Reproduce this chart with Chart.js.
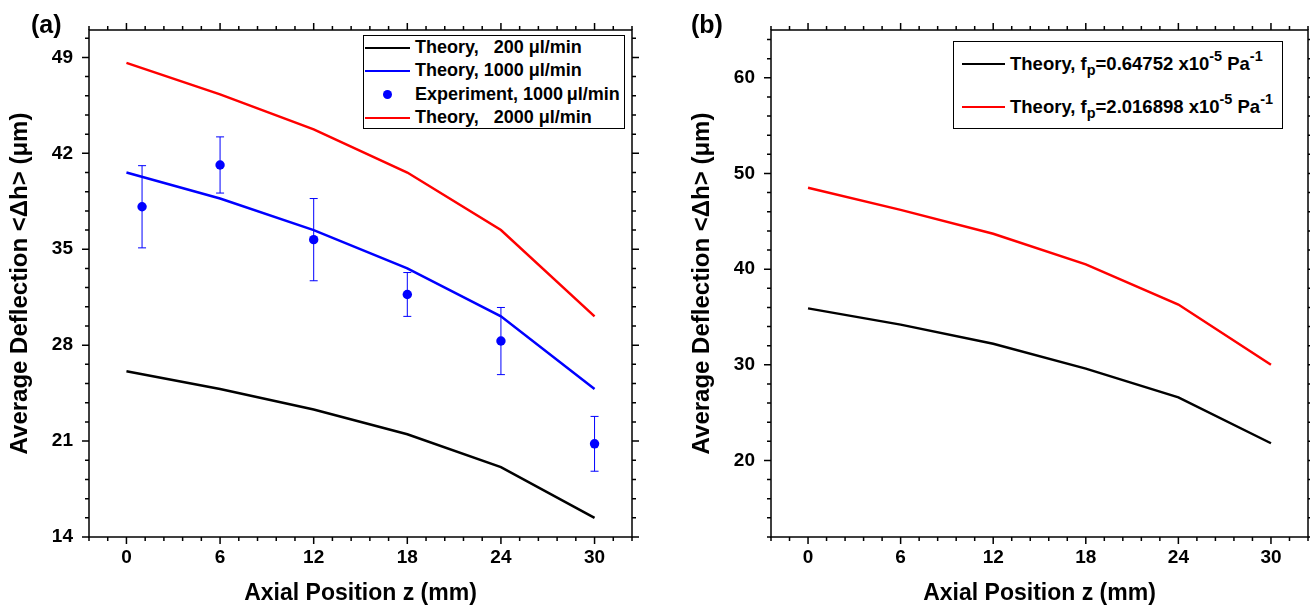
<!DOCTYPE html>
<html>
<head>
<meta charset="utf-8">
<script src="https://cdn.jsdelivr.net/npm/chart.js@4.4.0/dist/chart.umd.min.js"></script>
<style>
  html, body { margin: 0; padding: 0; background: #fff; }
  body { width: 1310px; height: 610px; position: relative; overflow: hidden; font-family: "Liberation Sans", Arial, sans-serif; color: #000; }
  canvas { position: absolute; top: 0; }
  #chartA { left: 0; }
  #chartB { left: 655px; }
  .tag { position: absolute; font-weight: bold; font-size: 25px; line-height: 25px; }
  .legend { position: absolute; border: 1.3px solid #000; background: #fff; font-weight: bold; box-sizing: border-box; }
  .row { display: flex; align-items: center; white-space: pre; }
  .sample { display: inline-block; position: relative; flex: none; }
  .sample.line { border-top: 2.5px solid; height: 0; }
  .sample.dot::after { content: ""; position: absolute; left: 50%; top: 50%; width: 9px; height: 9px; margin: -4.5px 0 0 -4.5px; border-radius: 50%; background: #0000ff; }
  sup, sub { font-size: 0.78em; position: relative; vertical-align: baseline; line-height: 0; }
  sup { top: -0.6em; }
  sub { top: 0.35em; }
</style>
</head>
<body>
<canvas id="chartA" width="655" height="610"></canvas>
<canvas id="chartB" width="655" height="610"></canvas>
<div class="tag" style="left:31px; top:12px;">(a)</div>
<div class="tag" style="left:691px; top:12px;">(b)</div>
<div class="legend" id="legendA" style="left:363px; top:35px; width:262px; height:94px; font-size:18px;"></div>
<div class="legend" id="legendB" style="left:953px; top:41px; width:330px; height:88px; font-size:18.5px;"></div>
<script>
// panel (a) data
const xTheory = [0, 6, 12, 18, 24, 30];
const xExperiment = [1, 6, 12, 18, 24, 30];
const theory200 = [26.1, 24.8, 23.3, 21.5, 19.1, 15.4];
const theory1000 = [40.6, 38.7, 36.4, 33.6, 30.1, 24.8];
const experiment1000 = [38.1, 41.15, 35.7, 31.7, 28.3, 20.8];
const experimentErr = [3.0, 2.05, 3.0, 1.6, 2.45, 2.0];
const theory2000 = [48.6, 46.3, 43.75, 40.6, 36.4, 30.1];
// panel (b) data
const theoryLowFp = [35.9, 34.2, 32.2, 29.6, 26.6, 21.8];
const theoryHighFp = [48.5, 46.2, 43.7, 40.5, 36.3, 30.0];

const xTicks = [0, 6, 12, 18, 24, 30];
const yTicksA = [14, 21, 28, 35, 42, 49];
const yTicksB = [20, 30, 40, 50, 60];

const legendA = ['Theory,   200 \u03bcl/min', 'Theory, 1000 \u03bcl/min', 'Experiment, 1000\u202f\u03bcl/min', 'Theory,   2000 \u03bcl/min'];
const legendB = ['Theory, f<sub>p</sub>=0.64752 x10<sup>-5</sup> Pa<sup>-1</sup>', 'Theory, f<sub>p</sub>=2.016898 x10<sup>-5</sup> Pa<sup>-1</sup>'];

const xTitle = 'Axial Position z (mm)';
const yTitle = 'Average Deflection <\u0394h> (\u03bcm)';
const FONT = '"Liberation Sans", Arial, sans-serif';

const pts = (xs, ys) => xs.map((x, i) => ({ x: x, y: ys[i] }));

// frame, ticks on all four sides (major + minor) and error bars
const framePlugin = {
    id: 'frame',
    beforeDatasetsDraw(chart) {
        const ctx = chart.ctx;
        const { x, y } = chart.scales;
        chart.data.datasets.forEach(ds => {
            if (!ds.errors) return;
            ctx.save();
            ctx.strokeStyle = ds.borderColor;
            ctx.lineWidth = 1;
            ds.data.forEach((p, i) => {
                const px = x.getPixelForValue(p.x);
                const top = y.getPixelForValue(p.y + ds.errors[i]);
                const bot = y.getPixelForValue(p.y - ds.errors[i]);
                ctx.beginPath();
                ctx.moveTo(px, top); ctx.lineTo(px, bot);
                ctx.moveTo(px - 4, top); ctx.lineTo(px + 4, top);
                ctx.moveTo(px - 4, bot); ctx.lineTo(px + 4, bot);
                ctx.stroke();
            });
            ctx.restore();
        });
    },
    afterDraw(chart) {
        const ctx = chart.ctx;
        const a = chart.chartArea;
        const { x, y } = chart.scales;
        const o = chart.options.plugins.frame;
        ctx.save();
        ctx.strokeStyle = '#000';
        ctx.lineWidth = 1.5;
        ctx.strokeRect(a.left, a.top, a.right - a.left, a.bottom - a.top);
        ctx.beginPath();
        const isMajor = (v, list) => list.some(t => Math.abs(t - v) < 1e-6);
        for (let k = 0; ; k++) {
            const v = x.min + k * o.xMinor;
            if (v > x.max + 1e-6) break;
            const len = isMajor(v, o.xMajor) ? 7 : 4;
            const px = x.getPixelForValue(v);
            ctx.moveTo(px, a.bottom); ctx.lineTo(px, a.bottom + len);
            ctx.moveTo(px, a.top); ctx.lineTo(px, a.top - len);
        }
        for (let k = 0; ; k++) {
            const v = y.min + k * o.yMinor;
            if (v > y.max + 1e-6) break;
            const len = isMajor(v, o.yMajor) ? 7 : 4;
            const py = y.getPixelForValue(v);
            ctx.moveTo(a.left, py); ctx.lineTo(a.left - len, py);
            ctx.moveTo(a.right, py); ctx.lineTo(a.right + len, py);
        }
        ctx.stroke();
        ctx.restore();
    }
};

function makeChart(id, datasets, cfg) {
    return new Chart(document.getElementById(id), {
        type: 'scatter',
        data: { datasets: datasets },
        plugins: [framePlugin],
        options: {
            responsive: false,
            animation: false,
            layout: { padding: { left: 0, right: cfg.padRight, top: 30, bottom: 0 } },
            plugins: {
                legend: { display: false },
                tooltip: { enabled: false },
                frame: { xMinor: 1.2, xMajor: xTicks, yMinor: cfg.yMinor, yMajor: cfg.yTicks }
            },
            scales: {
                x: {
                    type: 'linear', min: -2.4, max: 32.4,
                    afterBuildTicks: s => { s.ticks = xTicks.map(v => ({ value: v })); },
                    afterFit: s => { s.height = 73; },
                    grid: { drawOnChartArea: false, drawTicks: true, tickLength: 7, tickColor: 'rgba(0,0,0,0)' },
                    border: { display: false },
                    ticks: { color: '#000', font: { family: FONT, size: 19, weight: 'bold' }, padding: 2, maxRotation: 0, autoSkip: false },
                    title: { display: true, text: xTitle, color: '#000', font: { family: FONT, size: 23, weight: 'bold' }, padding: { top: 0, bottom: 3 } }
                },
                y: {
                    type: 'linear', min: cfg.yMin, max: cfg.yMax,
                    afterBuildTicks: s => { s.ticks = cfg.yTicks.map(v => ({ value: v })); },
                    afterFit: s => { s.width = cfg.yWidth; },
                    grid: { drawOnChartArea: false, drawTicks: true, tickLength: 7, tickColor: 'rgba(0,0,0,0)' },
                    border: { display: false },
                    ticks: { color: '#000', font: { family: FONT, size: 19, weight: 'bold' }, padding: 9, autoSkip: false },
                    title: { display: true, text: yTitle, color: '#000', font: { family: FONT, size: 24, weight: 'bold' }, padding: { top: cfg.titlePad, bottom: 0 } }
                }
            }
        }
    });
}

const lineDs = (label, xs, ys, color) => ({
    label: label, data: pts(xs, ys), showLine: true, borderColor: color, backgroundColor: color,
    borderWidth: 2.5, pointRadius: 0, fill: false
});

makeChart('chartA', [
    lineDs(legendA[0], xTheory, theory200, '#000000'),
    lineDs(legendA[1], xTheory, theory1000, '#0000ff'),
    lineDs(legendA[3], xTheory, theory2000, '#ff0000'),
    { label: legendA[2], data: pts(xExperiment, experiment1000), errors: experimentErr, showLine: false,
      borderColor: '#0000ff', backgroundColor: '#0000ff', pointRadius: 4.7, borderWidth: 0 }
], { yMin: 14, yMax: 51, yTicks: yTicksA, yMinor: 1.4, yWidth: 89, padRight: 23, titlePad: 6 });

makeChart('chartB', [
    lineDs('Theory, fp=0.64752 x10^-5 Pa^-1', xTheory, theoryLowFp, '#000000'),
    lineDs('Theory, fp=2.016898 x10^-5 Pa^-1', xTheory, theoryHighFp, '#ff0000')
], { yMin: 12, yMax: 65, yTicks: yTicksB, yMinor: 2, yWidth: 116, padRight: 2, titlePad: 33 });

// legends
function buildLegend(el, items, rowH, sampleLeft, sampleW, gap) {
    items.forEach(it => {
        const row = document.createElement('div');
        row.className = 'row';
        row.style.height = rowH + 'px';
        const s = document.createElement('span');
        s.className = 'sample ' + (it.dot ? 'dot' : 'line');
        s.style.width = sampleW + 'px';
        s.style.marginLeft = sampleLeft + 'px';
        s.style.marginRight = gap + 'px';
        if (it.dot) s.style.height = '10px'; else s.style.borderTopColor = it.color;
        row.appendChild(s);
        const t = document.createElement('span');
        t.innerHTML = it.html;
        row.appendChild(t);
        el.appendChild(row);
    });
}
buildLegend(document.getElementById('legendA'), [
    { html: legendA[0], color: '#000000' },
    { html: legendA[1], color: '#0000ff' },
    { html: legendA[2], dot: true },
    { html: legendA[3], color: '#ff0000' }
], 23.3, 1, 45, 5);
buildLegend(document.getElementById('legendB'), [
    { html: legendB[0], color: '#000000' },
    { html: legendB[1], color: '#ff0000' }
], 43, 8, 43, 5);
</script>
</body>
</html>
